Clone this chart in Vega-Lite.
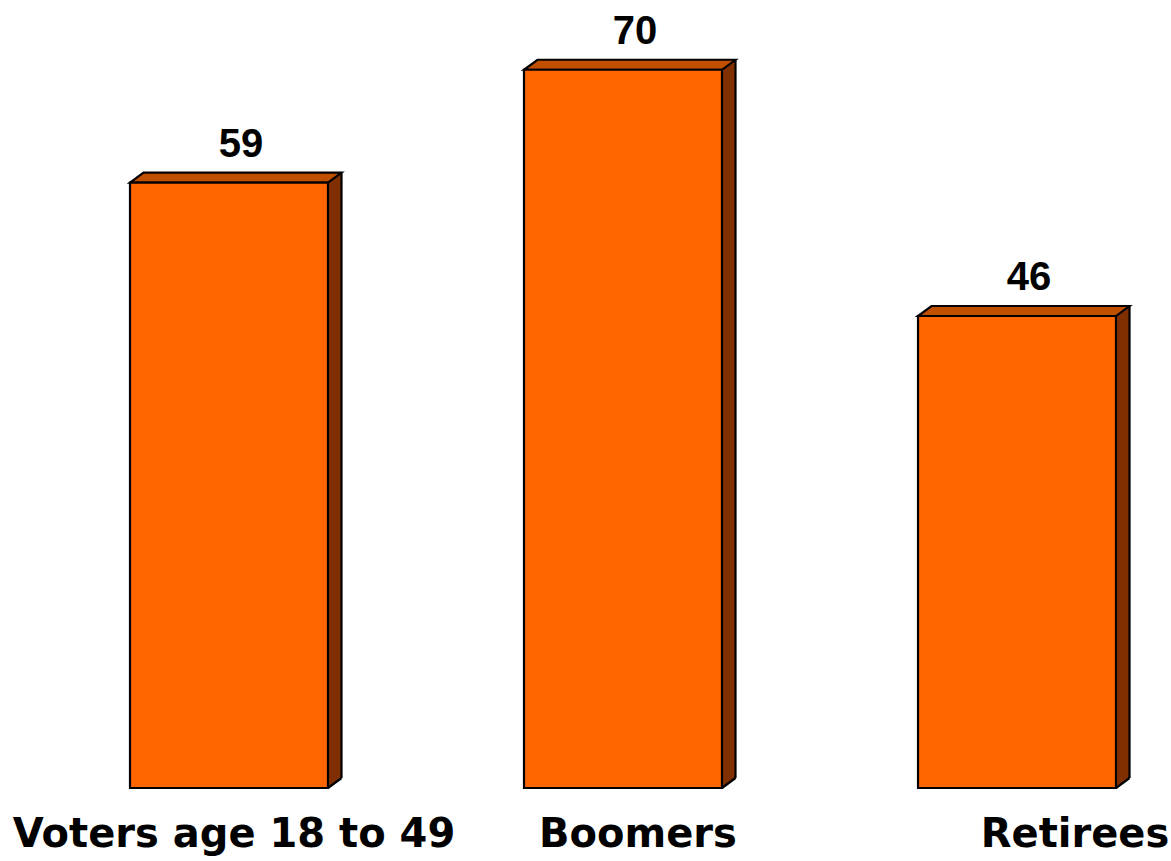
{
  "$schema": "https://vega.github.io/schema/vega-lite/v6.json",
  "autosize": {"type": "none"},
  "width": 986,
  "height": 788,
  "padding": {"left": 130, "top": 0, "right": 55, "bottom": 73},
  "background": "white",
  "config": {"view": {"stroke": null}},
  "data": {"values": [
    {"group": "Voters age 18 to 49", "value": 59},
    {"group": "Boomers", "value": 70},
    {"group": "Retirees", "value": 46}
  ]},
  "encoding": {
    "x": {
      "field": "group", "type": "nominal", "sort": null,
      "scale": {"paddingInner": 0.4975, "paddingOuter": 0},
      "axis": {
        "title": null, "domain": false, "ticks": false, "tickSize": 0, "grid": false,
        "labelAngle": 0, "labelFont": "DejaVu Sans", "labelFontWeight": "bold",
        "labelFontSize": 40, "labelColor": "black", "labelPadding": 26,
        "labelLimit": 0, "labelOverlap": false, "labelBound": false, "labelFlush": false,
        "labelOffset": {"expr": "datum.value === 'Retirees' ? 58 : datum.value === 'Boomers' ? 15 : 5"}
      }
    },
    "y": {
      "field": "value", "type": "quantitative",
      "scale": {"domain": [0, 76.8], "nice": false, "zero": true},
      "axis": null
    }
  },
  "layer": [
    {
      "mark": {"type": "bar", "width": 14, "xOffset": 106, "yOffset": -10, "y2Offset": -10, "fill": "#803000", "strokeWidth": 0}
    },
    {
      "mark": {"type": "point", "shape": "M 0.98 0 L 0.99 0 L 1.125 -0.1 L 1.125 -0.11 L 0.98 -0.11 Z", "size": 40000, "filled": true, "fill": "#803000", "opacity": 1, "strokeWidth": 0},
      "encoding": {"y": {"datum": 0}}
    },
    {
      "mark": {"type": "rule", "xOffset": 112.5, "yOffset": -10, "y2Offset": -10, "stroke": "black", "strokeWidth": 2.2},
      "encoding": {"y2": {"datum": 0}}
    },
    {
      "mark": {"type": "point", "shape": "M 0.99 0 L 1.125 -0.1", "size": 40000, "filled": false, "fill": "transparent", "stroke": "black", "strokeWidth": 2.2, "opacity": 1},
      "encoding": {"y": {"datum": 0}}
    },
    {
      "mark": {"type": "point", "shape": "M -0.99 0 L 0.99 0 L 1.125 -0.1 L -0.855 -0.1 Z", "size": 40000, "filled": true, "fill": "#c05000", "stroke": "black", "strokeWidth": 2.2, "opacity": 1}
    },
    {
      "mark": {"type": "bar", "fill": "#ff6600", "stroke": "black", "strokeWidth": 2.2}
    },
    {
      "mark": {"type": "text", "dx": 12, "dy": -26, "baseline": "alphabetic", "align": "center", "font": "Liberation Sans", "fontWeight": "bold", "fontSize": 40, "color": "black"},
      "encoding": {"text": {"field": "value", "type": "quantitative"}}
    }
  ]
}
